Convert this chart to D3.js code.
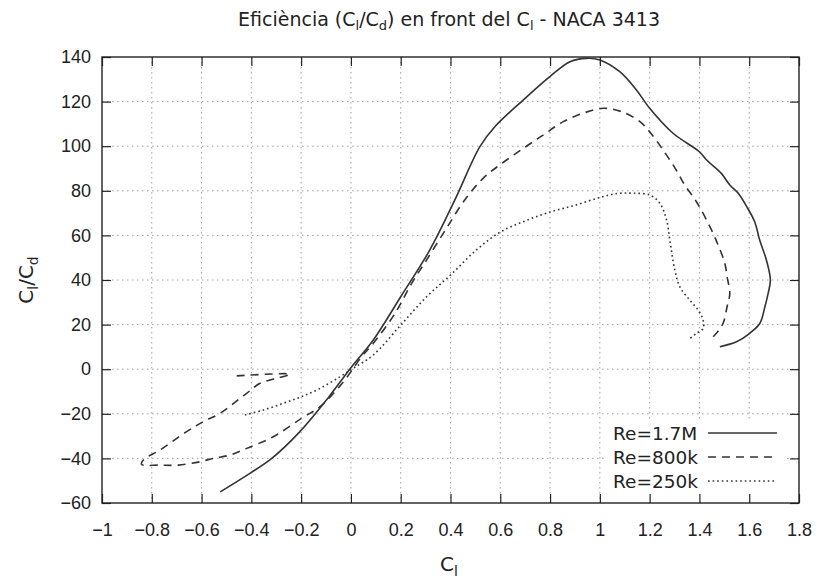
<!DOCTYPE html>
<html>
<head>
<meta charset="utf-8">
<script src="https://cdn.jsdelivr.net/npm/d3@7"></script>
<style>
  html, body { margin: 0; padding: 0; background: #fff; }
  svg { display: block; font-family: "DejaVu Sans", Verdana, sans-serif; }
</style>
</head>
<body>
<svg id="chart" width="819" height="579"></svg>
<script>
// Lift coefficient C_l and efficiency C_l/C_d for each Reynolds number
const cl_1_7M = [-0.525, -0.406, -0.318, -0.205, -0.088, 0.003, 0.09, 0.2, 0.317, 0.418, 0.518, 0.578, 0.692, 0.799, 0.88, 0.947, 1.0, 1.08, 1.147, 1.2, 1.294, 1.4, 1.428, 1.488, 1.522, 1.556, 1.59, 1.622, 1.642, 1.669, 1.685, 1.676, 1.663, 1.643, 1.602, 1.549, 1.482];
const eff_1_7M = [-55, -46.7, -40, -28, -12.3, 1.1, 13.1, 32.5, 53.5, 76, 99.8, 108.7, 120.7, 131.2, 137.9, 139.4, 138.7, 133.4, 125.2, 117, 105.8, 97.5, 93.9, 87.8, 82.6, 78.9, 72.9, 66.1, 57.9, 49, 40, 34, 28, 20.6, 16.1, 12.3, 10.1];

const cl_800k = [-0.459, -0.245, -0.298, -0.365, -0.419, -0.526, -0.593, -0.66, -0.767, -0.834, -0.841, -0.767, -0.694, -0.606, -0.553, -0.486, -0.419, -0.312, -0.198, -0.124, -0.03, 0.043, 0.09, 0.177, 0.244, 0.304, 0.38, 0.458, 0.531, 0.598, 0.692, 0.772, 0.853, 0.933, 1.014, 1.087, 1.161, 1.2, 1.254, 1.307, 1.341, 1.388, 1.442, 1.475, 1.502, 1.511, 1.522, 1.511, 1.495, 1.468, 1.442];
const eff_800k = [-3.0, -2.2, -4.1, -6.3, -10.8, -19.8, -23.5, -28, -36.2, -40.7, -42.7, -43, -43, -41.5, -40, -38.5, -35.5, -30.3, -22, -16.8, -5.6, 5.6, 11.6, 25, 38.5, 49, 62.5, 76, 85.6, 91.6, 99, 105, 111, 114.8, 117, 115.5, 111, 106.5, 98.3, 89.3, 82.6, 75.1, 63.9, 55.7, 47.5, 41.5, 34, 28, 20.6, 16.1, 13.1];

const cl_250k = [-0.426, -0.352, -0.272, -0.198, -0.124, -0.044, 0.009, 0.09, 0.2, 0.304, 0.4, 0.504, 0.6, 0.7, 0.8, 0.9, 1.0, 1.07, 1.134, 1.201, 1.241, 1.268, 1.281, 1.301, 1.321, 1.361, 1.395, 1.415, 1.415, 1.388, 1.355];
const eff_250k = [-20.5, -18.3, -15.3, -12.3, -8.6, -3.4, 0.4, 6.4, 19.8, 32.5, 42.2, 53.5, 61.5, 66.5, 70.5, 73.5, 77, 78.8, 78.9, 78.1, 74.4, 66.9, 57.9, 44.5, 37, 31, 26.5, 22, 18.3, 16.1, 13.1];

const seriesNames = ["Re=1.7M", "Re=800k", "Re=250k"];

// Axis ticks
const xTicks = [-1, -0.8, -0.6, -0.4, -0.2, 0, 0.2, 0.4, 0.6, 0.8, 1, 1.2, 1.4, 1.6, 1.8];
const yTicks = [-60, -40, -20, 0, 20, 40, 60, 80, 100, 120, 140];

const svg = d3.select("#chart");
const plotL = 102, plotR = 799, plotT = 57, plotB = 503;
const ink = "#222";
const fs = 18;

const x = d3.scaleLinear().domain([-1, 1.8]).range([plotL, plotR]);
const y = d3.scaleLinear().domain([-60, 140]).range([plotB, plotT]);

const series = [
  { name: seriesNames[0], cl: cl_1_7M, eff: eff_1_7M, dash: null },
  { name: seriesNames[1], cl: cl_800k, eff: eff_800k, dash: "8,6" },
  { name: seriesNames[2], cl: cl_250k, eff: eff_250k, dash: "1.6,3" }
];

// Dotted grid
const grid = svg.append("g").attr("stroke", "#a0a0a0").attr("stroke-width", 1).attr("stroke-dasharray", "1.5,3.5");
xTicks.slice(1, -1).forEach(t => {
  grid.append("line").attr("x1", x(t)).attr("x2", x(t)).attr("y1", plotT).attr("y2", plotB);
});
yTicks.slice(1, -1).forEach(t => {
  grid.append("line").attr("x1", plotL).attr("x2", plotR).attr("y1", y(t)).attr("y2", y(t));
});

// Curves
const line = d3.line().x(d => x(d[0])).y(d => y(d[1])).curve(d3.curveCatmullRom.alpha(0.5));
const curves = svg.append("g");
series.forEach(s => {
  const pts = s.cl.map((c, i) => [c, s.eff[i]]);
  curves.append("path")
    .attr("d", line(pts))
    .attr("fill", "none")
    .attr("stroke", "#333")
    .attr("stroke-width", 1.6)
    .attr("stroke-dasharray", s.dash);
});

// Legend (opaque key box)
svg.append("rect").attr("x", 606).attr("y", 419).attr("width", 180).attr("height", 81).attr("fill", "#fff");
const legend = svg.append("g");
series.forEach((s, i) => {
  const cy = 433 + i * 24;
  legend.append("text").attr("x", 613).attr("y", cy).attr("dy", "0.36em")
    .attr("font-size", 18.5).attr("fill", ink).text(s.name);
  legend.append("line").attr("x1", 708).attr("x2", 777).attr("y1", cy).attr("y2", cy)
    .attr("stroke", "#333").attr("stroke-width", 1.6).attr("stroke-dasharray", s.dash);
});

// Axes with inward ticks on all four sides
const tickLen = 9;
const axB = d3.axisBottom(x).tickValues(xTicks).tickSize(-tickLen).tickPadding(20).tickFormat(d3.format("~g"));
const axT = d3.axisTop(x).tickValues(xTicks).tickSize(-tickLen).tickFormat("");
const axL = d3.axisLeft(y).tickValues(yTicks).tickSize(-tickLen).tickPadding(11).tickFormat(d3.format("~g"));
const axR = d3.axisRight(y).tickValues(yTicks).tickSize(-tickLen).tickFormat("");

function styleAxis(g) {
  g.select(".domain").remove();
  g.selectAll(".tick line").attr("stroke", ink).attr("stroke-width", 1.2);
  g.selectAll("text").attr("font-size", fs).attr("fill", ink).attr("font-family", null);
}
svg.append("g").attr("transform", `translate(0,${plotB})`).call(axB).call(styleAxis);
svg.append("g").attr("transform", `translate(0,${plotT})`).call(axT).call(styleAxis);
svg.append("g").attr("transform", `translate(${plotL},0)`).call(axL).call(styleAxis);
svg.append("g").attr("transform", `translate(${plotR},0)`).call(axR).call(styleAxis);

// Frame
svg.append("rect").attr("x", plotL).attr("y", plotT).attr("width", plotR - plotL).attr("height", plotB - plotT)
  .attr("fill", "none").attr("stroke", ink).attr("stroke-width", 1.4);

// Title
const title = svg.append("text").attr("x", 449).attr("y", 26).attr("text-anchor", "middle")
  .attr("font-size", 19).attr("fill", ink);
title.append("tspan").text("Eficiència (C");
title.append("tspan").attr("font-size", 13).attr("dy", 4).text("l");
title.append("tspan").attr("dy", -4).text("/C");
title.append("tspan").attr("font-size", 13).attr("dy", 4).text("d");
title.append("tspan").attr("dy", -4).text(") en front del C");
title.append("tspan").attr("font-size", 13).attr("dy", 4).text("l");
title.append("tspan").attr("dy", -4).text(" - NACA 3413");

// Axis labels
const xl = svg.append("text").attr("x", 449).attr("y", 571).attr("text-anchor", "middle")
  .attr("font-size", 20).attr("fill", ink);
xl.append("tspan").text("C");
xl.append("tspan").attr("font-size", 14).attr("dy", 5).text("l");

const yl = svg.append("text").attr("transform", "translate(33,280) rotate(-90)").attr("text-anchor", "middle")
  .attr("font-size", 20).attr("fill", ink);
yl.append("tspan").text("C");
yl.append("tspan").attr("font-size", 14).attr("dy", 5).text("l");
yl.append("tspan").attr("dy", -5).text("/C");
yl.append("tspan").attr("font-size", 14).attr("dy", 5).text("d");
</script>
</body>
</html>
